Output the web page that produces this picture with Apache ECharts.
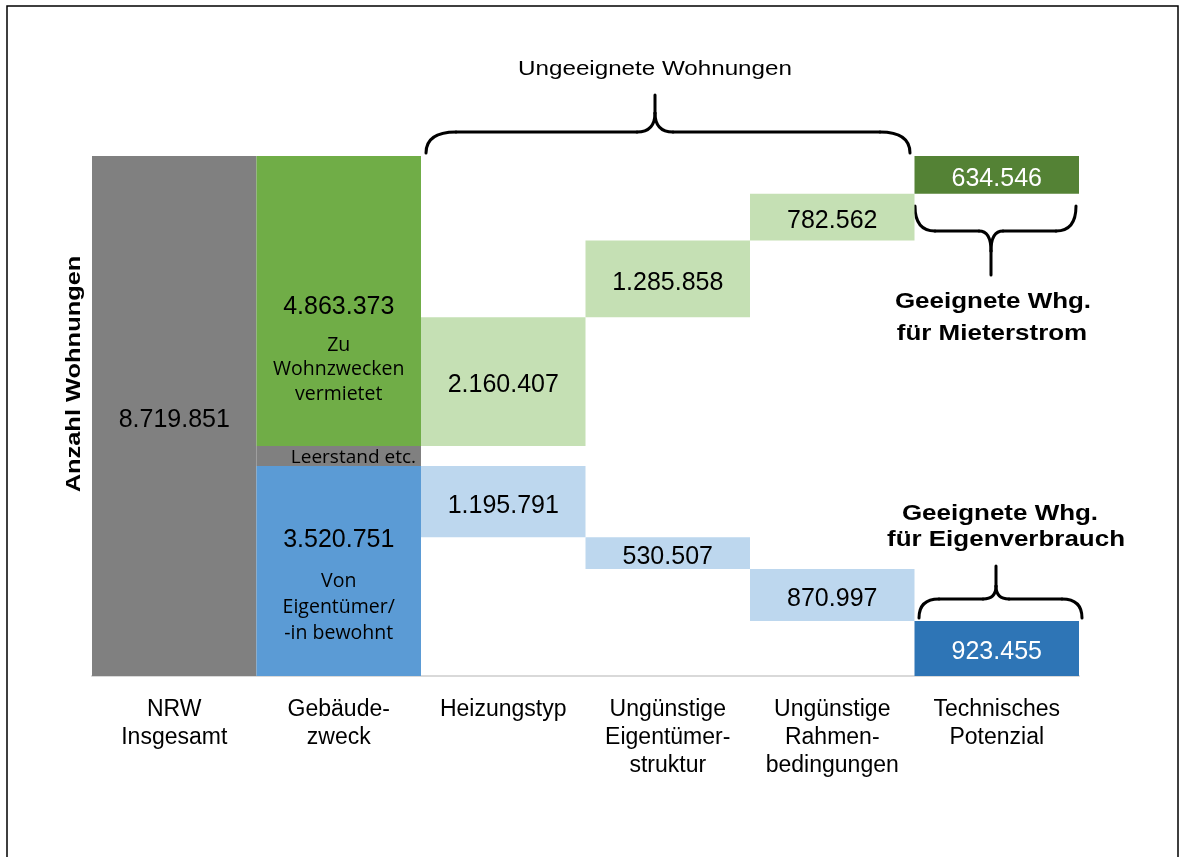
<!DOCTYPE html>
<html>
<head>
<meta charset="utf-8">
<title>Anzahl Wohnungen NRW</title>
<script src="https://cdn.jsdelivr.net/npm/echarts@6/dist/echarts.min.js"></script>
<style>
  html, body { margin: 0; padding: 0; background: #fff; }
  #chart { width: 1186px; height: 857px; }
</style>
</head>
<body>
<div id="chart"></div>
<script>
// categories on the x axis
const categories = [
  'NRW\nInsgesamt',
  'Gebäude-\nzweck',
  'Heizungstyp',
  'Ungünstige\nEigentümer-\nstruktur',
  'Ungünstige\nRahmen-\nbedingungen',
  'Technisches\nPotenzial'
];

const totalFlats = 8719851;
const rentedFlats = 4863373;   // Zu Wohnzwecken vermietet
const ownerFlats = 3520751;    // Von Eigentümer/-in bewohnt
// unsuitable flats dropped per step (Heizungstyp, Eigentümerstruktur, Rahmenbedingungen)
const rentedLosses = [2160407, 1285858, 782562];
const ownerLosses = [1195791, 530507, 870997];
// what remains
const rentedPotential = 634546;
const ownerPotential = 923455;

const blueColors = [null, '#5b9bd5', '#bdd7ee', '#bdd7ee', '#bdd7ee', '#2e75b6'];
const greenColors = [null, '#70ad47', '#c5e0b4', '#c5e0b4', '#c5e0b4', '#548235'];

const NUM_FONT = '"Liberation Sans", Arial, sans-serif';
const SUB_FONT = '"Open Sans", sans-serif';

function fmt(v) {
  return String(v).replace(/\B(?=(\d{3})+(?!\d))/g, '.');
}

// waterfall stacks: invisible base, blue, gap, green
const vacancy = totalFlats - rentedFlats - ownerFlats;
const baseVals = ['-', 0];
const blueVals = ['-', ownerFlats];
const gapVals = ['-', vacancy];
const greenVals = ['-', rentedFlats];
let ownerTop = ownerFlats;
let rentedBottom = ownerFlats + vacancy;
for (let i = 0; i < rentedLosses.length; i++) {
  baseVals.push(ownerTop - ownerLosses[i]);
  blueVals.push(ownerLosses[i]);
  gapVals.push(rentedBottom - ownerTop);
  greenVals.push(rentedLosses[i]);
  ownerTop -= ownerLosses[i];
  rentedBottom += rentedLosses[i];
}
baseVals.push(0);
blueVals.push(ownerPotential);
gapVals.push(rentedBottom - ownerPotential);
greenVals.push(rentedPotential);

const numLabel = {
  show: true,
  position: 'inside',
  offset: [0, 4],
  fontFamily: NUM_FONT,
  fontSize: 25,
  color: '#000',
  formatter: (p) => fmt(p.value)
};

const subRich = {
  n: { fontFamily: NUM_FONT, fontSize: 25, color: '#000' },
  s: { fontFamily: SUB_FONT, fontSize: 19.5, color: '#000' }
};

function colored(vals, colors) {
  return vals.map((v, i) => {
    if (v === '-') return v;
    const dark = i === vals.length - 1;
    return {
      value: v,
      itemStyle: { color: colors[i] },
      label: { color: dark ? '#fff' : '#000' }
    };
  });
}

const blueData = colored(blueVals, blueColors);
blueData[1].label = {
  offset: [0, 8],
  formatter: (p) => '{n|' + fmt(p.value) + '}\n{s|Von}\n{s|Eigentümer/}\n{s|-in bewohnt}',
  rich: {
    n: Object.assign({ lineHeight: 57 }, subRich.n),
    s: Object.assign({ lineHeight: 26 }, subRich.s)
  }
};
const greenData = colored(greenVals, greenColors);
greenData[1].label = {
  offset: [0, 43],
  formatter: (p) => '{n|' + fmt(p.value) + '}\n{s|Zu}\n{s|Wohnzwecken}\n{s|vermietet}',
  rich: {
    n: Object.assign({ lineHeight: 51 }, subRich.n),
    s: Object.assign({ lineHeight: 24.5 }, subRich.s)
  }
};
const gapData = gapVals.map((v, i) => {
  if (v === '-') return v;
  if (i === 1) {
    return {
      value: v,
      itemStyle: { color: '#808080' },
      label: {
        show: true,
        position: 'insideRight',
        distance: 5,
        offset: [0, 2],
        fontFamily: SUB_FONT,
        fontSize: 19,
        color: '#000',
        formatter: 'Leerstand etc.'
      }
    };
  }
  return { value: v, itemStyle: { color: 'transparent' } };
});

// curly brace built from lines and quadratic curves
function brace(x0, x1, yEnd, yMid, xt, yTip, rx, tx, ty) {
  const s = { stroke: '#000', lineWidth: 3, fill: 'none', lineCap: 'round' };
  const dir = Math.sign(yTip - yMid);
  const yc = yMid + dir * ty;
  return [
    { type: 'bezierCurve', shape: { x1: x0, y1: yEnd, cpx1: x0, cpy1: yMid, x2: x0 + rx, y2: yMid }, style: s },
    { type: 'line', shape: { x1: x0 + rx, y1: yMid, x2: xt - tx, y2: yMid }, style: s },
    { type: 'bezierCurve', shape: { x1: xt - tx, y1: yMid, cpx1: xt, cpy1: yMid, x2: xt, y2: yc }, style: s },
    { type: 'line', shape: { x1: xt, y1: yc, x2: xt, y2: yTip }, style: s },
    { type: 'bezierCurve', shape: { x1: xt + tx, y1: yMid, cpx1: xt, cpy1: yMid, x2: xt, y2: yc }, style: s },
    { type: 'line', shape: { x1: xt + tx, y1: yMid, x2: x1 - rx, y2: yMid }, style: s },
    { type: 'bezierCurve', shape: { x1: x1, y1: yEnd, cpx1: x1, cpy1: yMid, x2: x1 - rx, y2: yMid }, style: s }
  ];
}

function note(text, x, y, opts) {
  return Object.assign({
    type: 'text',
    x: x,
    y: y,
    scaleX: 1,
    style: {
      text: text,
      x: 0,
      y: 0,
      fill: '#000',
      font: opts.font,
      align: 'center',
      verticalAlign: 'middle',
      textAlign: 'center',
      textVerticalAlign: 'middle'
    }
  }, opts.extra || {});
}

const chart = echarts.init(document.getElementById('chart'));

const option = {
  animation: false,
  backgroundColor: '#fff',
  grid: { left: 92, right: 107, top: 156, bottom: 181 },
  xAxis: {
    type: 'category',
    data: categories,
    axisLine: { show: true, lineStyle: { color: '#d9d9d9', width: 2 } },
    axisTick: { show: false },
    axisLabel: {
      interval: 0,
      margin: 20,
      fontFamily: NUM_FONT,
      fontSize: 23,
      lineHeight: 28,
      color: '#000'
    }
  },
  yAxis: {
    type: 'value',
    min: 0,
    max: totalFlats,
    axisLine: { show: false },
    axisTick: { show: false },
    axisLabel: { show: false },
    splitLine: { show: false }
  },
  series: [
    {
      name: 'Insgesamt',
      type: 'bar',
      stack: 'w',
      barCategoryGap: '0%',
      data: [totalFlats, '-', '-', '-', '-', '-'],
      itemStyle: { color: '#808080' },
      label: numLabel
    },
    {
      name: 'base',
      type: 'bar',
      stack: 'w',
      data: baseVals,
      itemStyle: { color: 'transparent' },
      label: { show: false }
    },
    {
      name: 'Eigentümer',
      type: 'bar',
      stack: 'w',
      data: blueData,
      label: numLabel
    },
    {
      name: 'gap',
      type: 'bar',
      stack: 'w',
      data: gapData,
      label: { show: false }
    },
    {
      name: 'Vermietet',
      type: 'bar',
      stack: 'w',
      data: greenData,
      label: numLabel
    }
  ],
  graphic: {
    elements: [
      {
        type: 'rect',
        shape: { x: 7, y: 6, width: 1171, height: 900 },
        style: { fill: 'none', stroke: '#000', lineWidth: 1.5 },
        silent: true
      },
      note('Ungeeignete Wohnungen', 655, 70, {
        font: '19.5px ' + NUM_FONT, extra: { scaleX: 1.24 }
      }),
      note('Anzahl Wohnungen', 74, 374, {
        font: 'bold 20.5px ' + NUM_FONT, extra: { scaleX: 1.24, rotation: Math.PI / 2 }
      }),
      note('Geeignete Whg.', 993, 302, { font: 'bold 22px ' + NUM_FONT, extra: { scaleX: 1.18 } }),
      note('für Mieterstrom', 992, 334, { font: 'bold 22px ' + NUM_FONT, extra: { scaleX: 1.18 } }),
      note('Geeignete Whg.', 1000, 514, { font: 'bold 22px ' + NUM_FONT, extra: { scaleX: 1.18 } }),
      note('für Eigenverbrauch', 1006, 540, { font: 'bold 22px ' + NUM_FONT, extra: { scaleX: 1.18 } })
    ]
      .concat(brace(426, 910, 153, 132, 655, 95, 30, 18, 19))
      .concat(brace(915, 1076, 206, 231, 991, 275, 20, 12, 20))
      .concat(brace(919, 1082, 618, 599, 996, 566, 20, 13, 13))
  }
};

chart.setOption(option);
window.addEventListener('resize', () => chart.resize());
</script>
</body>
</html>
